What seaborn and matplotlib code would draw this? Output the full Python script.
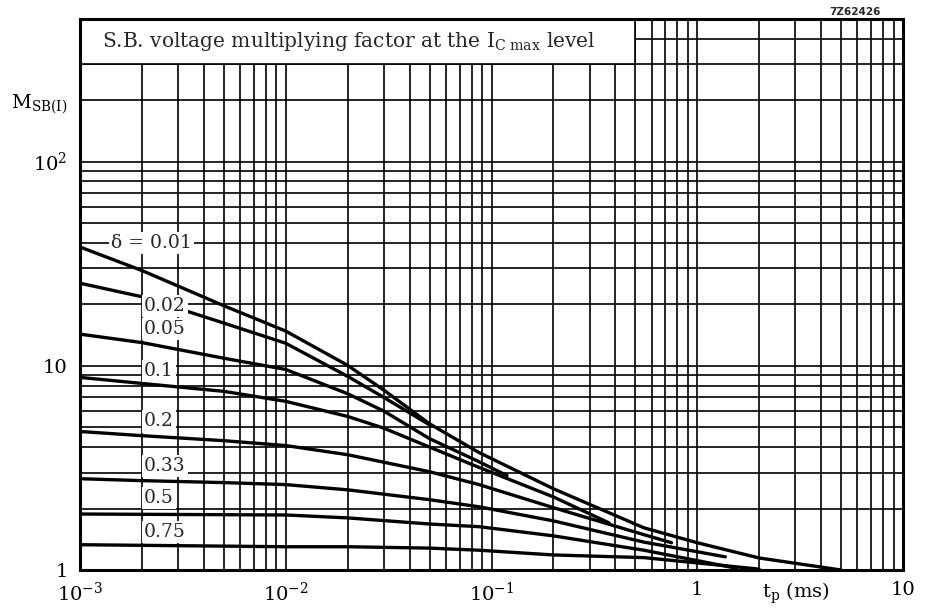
import numpy as np
import pandas as pd
import matplotlib
matplotlib.use('Agg')
import matplotlib.pyplot as plt
from matplotlib.ticker import LogLocator, NullFormatter
from matplotlib.patches import Rectangle
import seaborn as sns

# curve data (tp in ms, M_SB(I))
t_001 = [1e-3, 2e-3, 5e-3, 1e-2, 2e-2, 3e-2, 5e-2, 0.087, 0.2, 0.55, 1.0, 2.0, 5.0]
m_001 = [38.2, 29.3, 19.7, 14.8, 10.05, 7.6, 5.2, 3.76, 2.50, 1.61, 1.36, 1.145, 1.0]

t_002 = [1e-3, 2e-3, 5e-3, 1e-2, 2e-2, 3e-2, 0.0515]
m_002 = [25.4, 21.8, 16.2, 12.9, 8.88, 7.0, 5.05]

t_005 = [1e-3, 2e-3, 5e-3, 1e-2, 2e-2, 3e-2, 5e-2, 0.087, 0.119]
m_005 = [14.3, 13.0, 10.9, 9.6, 7.3, 6.0, 4.4, 3.39, 2.9]

t_01 = [1e-3, 2e-3, 5e-3, 1e-2, 2e-2, 3e-2, 5e-2, 0.087, 0.2, 0.373]
m_01 = [8.78, 8.2, 7.5, 6.7, 5.65, 4.95, 4.0, 3.18, 2.28, 1.70]

t_02 = [1e-3, 2e-3, 5e-3, 1e-2, 2e-2, 5e-2, 0.087, 0.2, 0.55, 0.75]
m_02 = [4.77, 4.55, 4.3, 4.07, 3.67, 3.03, 2.62, 2.02, 1.49, 1.36]

t_033 = [1e-3, 2e-3, 5e-3, 1e-2, 2e-2, 5e-2, 0.087, 0.2, 0.55, 1.37]
m_033 = [2.80, 2.74, 2.68, 2.62, 2.47, 2.21, 2.04, 1.74, 1.37, 1.16]

t_05 = [1e-3, 1e-2, 2e-2, 5e-2, 0.087, 0.2, 0.55, 1.55]
m_05 = [1.88, 1.86, 1.80, 1.68, 1.63, 1.47, 1.25, 1.02]

t_075 = [1e-3, 1e-2, 2e-2, 5e-2, 0.087, 0.2, 0.55, 2.0]
m_075 = [1.33, 1.30, 1.30, 1.28, 1.25, 1.185, 1.15, 1.01]

deltas = ['0.01', '0.02', '0.05', '0.1', '0.2', '0.33', '0.5', '0.75']
curves = [(t_001, m_001), (t_002, m_002), (t_005, m_005), (t_01, m_01),
          (t_02, m_02), (t_033, m_033), (t_05, m_05), (t_075, m_075)]

# curve labels: text, x (ms), y
label_text = ['δ = 0.01', '0.02', '0.05', '0.1', '0.2', '0.33', '0.5', '0.75']
label_x = [1.42e-3, 2.05e-3, 2.05e-3, 2.05e-3, 2.05e-3, 2.05e-3, 2.05e-3, 2.05e-3]
label_y = [40, 19.6, 15.1, 9.4, 5.34, 3.24, 2.26, 1.54]

xtick_vals = [1e-3, 1e-2, 1e-1, 1, 3, 10]
xtick_labels = [r'10$^{-3}$', r'10$^{-2}$', r'10$^{-1}$', '1', r'$\mathrm{t_p}$ (ms)', '10']
ytick_vals = [1, 10, 100, 200]
ytick_labels = ['1', '10', r'10$^{2}$', r'M$_{\mathrm{SB(I)}}$']

rows = []
for d, (t, m) in zip(deltas, curves):
    for ti, mi in zip(t, m):
        rows.append({'delta': d, 'tp': ti, 'M': mi})
df = pd.DataFrame(rows)

sns.set_theme(style='white')
plt.rcParams['font.family'] = ['DejaVu Serif']
plt.rcParams['mathtext.fontset'] = 'dejavuserif'

fig = plt.figure(figsize=(9.29, 6.11), dpi=100)
ax = fig.add_axes([80 / 929, 1 - 570 / 611, 823 / 929, 551 / 611])

sns.lineplot(data=df, x='tp', y='M', hue='delta', units='delta', estimator=None,
             palette={d: 'black' for d in deltas}, linewidth=2.4, legend=False,
             sort=True, ax=ax, zorder=3)

ax.set_xscale('log')
ax.set_yscale('log')
ax.set_xlim(1e-3, 10)
ax.set_ylim(1, 500)

ax.xaxis.set_minor_locator(LogLocator(base=10, subs=np.arange(2, 10), numticks=20))
ax.yaxis.set_minor_locator(LogLocator(base=10, subs=np.arange(2, 10), numticks=20))
ax.xaxis.set_minor_formatter(NullFormatter())
ax.yaxis.set_minor_formatter(NullFormatter())
ax.set_xticks(xtick_vals)
ax.set_xticklabels(xtick_labels)
ax.set_yticks(ytick_vals)
ax.set_yticklabels(ytick_labels)
ax.tick_params(which='both', length=0, labelsize=14, colors='black')
ax.tick_params(axis='x', pad=8)
ax.tick_params(axis='y', pad=9)

ax.set_axisbelow(True)
ax.grid(which='both', color='black', linewidth=1.2)
for s in ax.spines.values():
    s.set_color('black')
    s.set_linewidth(2.2)

ax.set_xlabel('')
ax.set_ylabel('')

# title box in upper left corner
ax.add_patch(Rectangle((1e-3, 300), 0.5 - 1e-3, 200, facecolor='white',
                       edgecolor='black', linewidth=1.2, zorder=2))
ax.text(1.28e-3, 389, r'S.B. voltage multiplying factor at the I$_{\mathrm{C\ max}}$ level',
        fontsize=14.5, va='center', ha='left', zorder=5)

for txt, x, y in zip(label_text, label_x, label_y):
    ax.text(x, y, txt, fontsize=13.5, va='center', ha='left', zorder=5,
            bbox=dict(facecolor='white', edgecolor='none', pad=1.5))

fig.text(855 / 929, 1 - 12 / 611, '7Z62426', fontsize=7.5, ha='center', va='center',
         family='DejaVu Sans', weight='bold')

fig.savefig('out.png', dpi=100, facecolor='white')
